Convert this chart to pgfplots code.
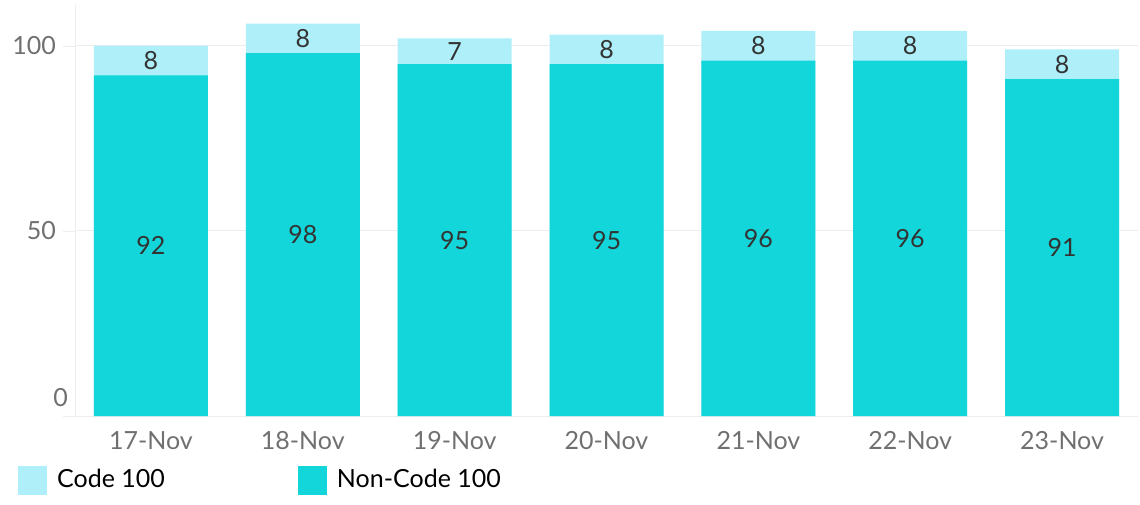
\documentclass[border=0pt]{standalone}
\usepackage{fontspec}
\setmainfont{Lato}
\usepackage{pgfplots}
\pgfplotsset{compat=1.18}
\usepackage{pgfplotstable}

\definecolor{code}{HTML}{AEEFF9}
\definecolor{noncode}{HTML}{13D6DA}
\definecolor{gridc}{HTML}{EDEDED}
\definecolor{tickc}{HTML}{707070}
\definecolor{labc}{HTML}{333333}

% day, non-code, code, total, label heights
\pgfplotstableread{
x nc c tot ncmid cmid
0 92 8 100 46 96
1 98 8 106 49 102
2 95 7 102 47.5 98.5
3 95 8 103 47.5 99
4 96 8 104 48 100
5 96 8 104 48 100
6 91 8 99 45.5 95
}\data

\begin{document}
\begin{tikzpicture}
\useasboundingbox (0,0) rectangle (570pt,252pt);
\begin{axis}[
    at={(37.5pt,44pt)}, anchor=south west,
    scale only axis,
    width=531.5pt, height=205.5pt,
    xmin=-0.5, xmax=6.5,
    ymin=0, ymax=111,
    font=\fontsize{12.5}{15}\selectfont,
    /pgf/number format/assume math mode=true,
    axis x line*=bottom, axis y line*=left,
    axis line style={gridc, -},
    xtick={0,...,6},
    xticklabels={17-Nov,18-Nov,19-Nov,20-Nov,21-Nov,22-Nov,23-Nov},
    x tick style={draw=none},
    xticklabel style={text=tickc, yshift=2pt},
    extra x ticks={-0.5,0.5,1.5,2.5,3.5,4.5,5.5,6.5},
    extra x tick labels={},
    extra x tick style={tick align=outside, major tick length=4pt, tick style={gridc}},
    ytick={0,50,100},
    yticklabels={,50,100},
    extra y ticks={4.9},
    extra y tick labels={0},
    extra y tick style={grid=none, major tick length=0pt, tick style={draw=none}},
    ymajorgrids, grid style={gridc},
    y tick style={gridc},
    tick align=outside, major tick length=6pt,
    yticklabel style={text=tickc},
    legend style={at={(rel axis cs:0,0)}, anchor=west, xshift=-28.5pt, yshift=-32pt,
        draw=none, fill=none, inner sep=0pt, legend columns=2,
        font=\fontsize{12.5}{15}\selectfont},
    legend cell align=left,
]
\addplot[ybar, bar width=57pt, bar shift=0pt, fill=code, draw=none, forget plot]
    table[x=x, y=tot] {\data};
\addplot[ybar, bar width=57pt, bar shift=0pt, fill=noncode, draw=none, forget plot]
    table[x=x, y=nc] {\data};
\addplot[only marks, mark=none, forget plot, nodes near coords, point meta=explicit symbolic,
    every node near coord/.append style={anchor=center, text=labc}]
    table[x=x, y=ncmid, meta=nc] {\data};
\addplot[only marks, mark=none, forget plot, nodes near coords, point meta=explicit symbolic,
    every node near coord/.append style={anchor=center, text=labc}]
    table[x=x, y=cmid, meta=c] {\data};

\addlegendimage{legend image code/.code={\fill[code] (0pt,-7pt) rectangle (14pt,7pt);}}
\addlegendentry{\makebox[121.5pt][l]{\hspace{3pt}Code 100}}
\addlegendimage{legend image code/.code={\fill[noncode] (0pt,-7pt) rectangle (14pt,7pt);}}
\addlegendentry{\hspace{3pt}Non-Code 100}
\end{axis}
\end{tikzpicture}
\end{document}
